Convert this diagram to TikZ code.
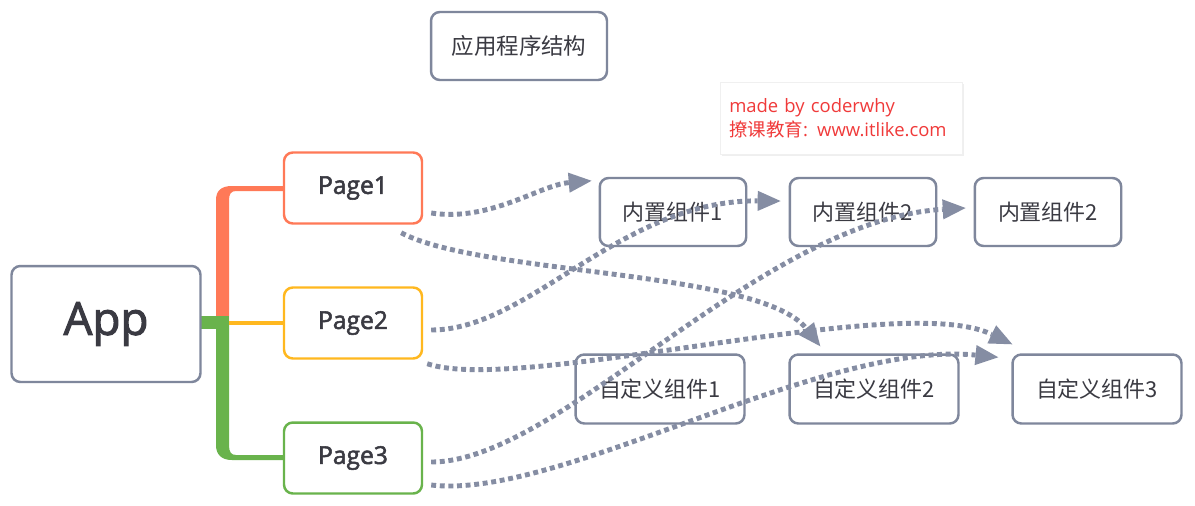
\documentclass[tikz,border=0pt]{standalone}
\usepackage{fontspec}
\setmainfont{Open Sans}
\newfontfamily\cjk{Noto Sans CJK SC}
\newfontfamily\semib{Open Sans}[FakeBold=2.2]
\newfontfamily\latw{Open Sans}
\usetikzlibrary{arrows.meta,calc,shadows}
\definecolor{bd}{HTML}{7F879C}
\definecolor{dotc}{HTML}{858DA3}
\definecolor{p1c}{HTML}{FF7957}
\definecolor{p2c}{HTML}{FFB81F}
\definecolor{p3c}{HTML}{69B34C}
\definecolor{txt}{HTML}{3A3A42}
\definecolor{wm}{HTML}{F03A3A}
\begin{document}
\begin{tikzpicture}[x=0.02cm,y=-0.02cm,
  box/.style={draw=bd,line width=1.4pt,rounded corners=5pt,fill=white,inner sep=0pt,text=txt},
  cbox/.style={box,minimum width=2.93cm,minimum height=1.36cm,font=\cjk\fontsize{12.5}{14}\selectfont},
  ebox/.style={box,minimum width=3.38cm,minimum height=1.38cm,font=\cjk\fontsize{12.5}{14}\selectfont},
  pbox/.style={box,minimum width=2.76cm,minimum height=1.42cm,font=\semib\fontsize{14}{16}\selectfont},
  dl/.style={draw=dotc,line width=2.8pt,dash pattern=on 2.8pt off 2.1pt,
    -{Triangle[length=13pt,width=11.5pt,fill=dotc,line width=0pt]}}
]
\useasboundingbox (0,0) rectangle (1195,505);
\fill[white] (0,0) rectangle (1195,505);

% title
\node[box,minimum width=3.52cm,minimum height=1.36cm,font=\cjk\fontsize{12.8}{14}\selectfont] (title) at (519,46) {应用程序结构};

% watermark
\node[draw=black!6,line width=0.3pt,fill=white,drop shadow={opacity=0.12,shadow xshift=1pt,shadow yshift=-1pt},
  anchor=north west,minimum width=4.84cm,minimum height=1.44cm,inner xsep=0.18cm,inner ysep=0pt,
  text width=4.48cm,align=left,text=wm,font=\latw\fontsize{10.5}{13.7}\selectfont] (wmk) at (720,82)
  {made by coderwhy\\{\cjk 撩课教育}: www.itlike.com};

% branches
\fill[p1c] (216,322) -- (216,200) .. controls (216,191) and (221,186) .. (232,186) -- (284,186) -- (284,191)
  -- (236,191) .. controls (231,191) and (229,194) .. (229,200) -- (229,322) -- cycle;
\fill[p3c] (216,322) -- (216,445) .. controls (216,454) and (221,460) .. (232,460) -- (284,460) -- (284,455)
  -- (236,455) .. controls (231,455) and (229,452) .. (229,445) -- (229,322) -- cycle;
\fill[p3c] (201,316) rectangle (229,329);
\fill[p2c] (229,321) rectangle (284,325);

% main nodes
\node[box,minimum width=3.78cm,minimum height=2.32cm,font=\semib\fontsize{26}{30}\selectfont] (app) at (106,324) {App};
\node[pbox,draw=p1c] (p1) at (353,188) {Page1};
\node[pbox,draw=p2c] (p2) at (353,323) {Page2};
\node[pbox,draw=p3c] (p3) at (353,458) {Page3};

\node[cbox] (in1) at (673,212) {内置组件1};
\node[cbox] (in2) at (863,212) {内置组件2};
\node[cbox] (in3) at (1048,212) {内置组件2};
\node[ebox] (ex1) at (660,389) {自定义组件1};
\node[ebox] (ex2) at (874,389) {自定义组件2};
\node[ebox] (ex3) at (1097,389) {自定义组件3};

% arrow tips
\coordinate (t1) at ($(in1.north west)+(-7,4)$);
\coordinate (t2) at ($(in2.west)+(-8,-11)$);
\coordinate (t3) at ($(in3.west)+(-8,-4)$);
\coordinate (t4) at ($(ex2.north west)+(32,-7)$);
\coordinate (t5) at ($(ex3.north west)+(1,-9)$);
\coordinate (t6) at ($(ex3.north west)+(-13,4)$);

% dotted connectors
\draw[dl] ($(p1.east)+(8,25)$) .. controls (490,222) and (540,185) .. (t1);
\draw[dl] ($(p1.south east)+(-22,8)$) .. controls (480,275) and (760,270) .. (t4);
\draw[dl] ($(p2.east)+(8,7)$) .. controls (530,330) and (620,200) .. (t2);
\draw[dl] ($(p2.south east)+(4,4)$) .. controls (520,395) and (900,290) .. (t5);
\draw[dl] ($(p3.east)+(8,4)$) .. controls (560,462) and (760,220) .. (t3);
\draw[dl] ($(p3.east)+(8,27)$) .. controls (560,500) and (820,340) .. (t6);
\end{tikzpicture}
\end{document}
